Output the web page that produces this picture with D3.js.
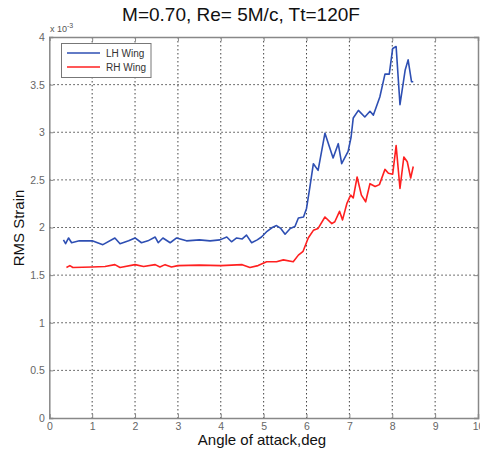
<!DOCTYPE html>
<html><head><meta charset="utf-8">
<script src="https://cdn.jsdelivr.net/npm/d3@7"></script>
<style>body{margin:0;background:#fff;} svg{display:block;font-family:"Liberation Sans",Arial,sans-serif;}</style>
</head><body>
<svg id="c" width="480" height="454"></svg>
<script>
const titleText = "M=0.70, Re= 5M/c, Tt=120F";
const xLabel = "Angle of attack,deg";
const yLabel = "RMS Strain";
const seriesNames = ["LH Wing", "RH Wing"];
const xTicks = [0,1,2,3,4,5,6,7,8,9,10];
const yTicks = [0,0.5,1,1.5,2,2.5,3,3.5,4];

const lhAngle = [0.33,0.38,0.45,0.52,0.7,1.0,1.25,1.53,1.65,1.85,2.0,2.15,2.3,2.47,2.54,2.65,2.82,2.97,3.2,3.5,3.75,3.98,4.14,4.25,4.37,4.5,4.6,4.72,4.85,4.95,5.08,5.2,5.3,5.4,5.5,5.62,5.73,5.81,5.93,6.0,6.08,6.16,6.27,6.43,6.62,6.74,6.82,6.97,7.04,7.09,7.21,7.36,7.48,7.56,7.71,7.83,7.93,8.01,8.09,8.18,8.3,8.37,8.45,8.49];
const lhStrain = [1.87,1.83,1.89,1.84,1.86,1.86,1.82,1.89,1.83,1.86,1.89,1.84,1.86,1.9,1.84,1.89,1.84,1.89,1.86,1.87,1.86,1.87,1.9,1.85,1.89,1.88,1.92,1.84,1.87,1.9,1.96,2.0,2.02,1.99,1.93,1.99,2.01,2.1,2.11,2.2,2.43,2.67,2.6,2.99,2.73,2.88,2.67,2.8,2.95,3.15,3.23,3.16,3.22,3.18,3.37,3.61,3.61,3.88,3.9,3.29,3.65,3.76,3.53,3.53];

const rhAngle = [0.4,0.48,0.55,1.0,1.3,1.53,1.65,2.0,2.2,2.47,2.58,2.7,2.85,3.0,3.5,4.0,4.5,4.68,4.87,5.07,5.3,5.46,5.69,5.81,5.92,6.04,6.16,6.27,6.43,6.59,6.66,6.77,6.84,6.94,7.03,7.09,7.18,7.28,7.38,7.48,7.6,7.7,7.83,7.91,8.01,8.09,8.18,8.27,8.35,8.43,8.49];
const rhStrain = [1.58,1.6,1.58,1.585,1.59,1.61,1.58,1.61,1.59,1.61,1.585,1.61,1.585,1.6,1.605,1.6,1.61,1.58,1.6,1.64,1.64,1.66,1.64,1.71,1.75,1.89,1.97,1.99,2.11,2.04,2.06,2.17,2.08,2.25,2.34,2.31,2.53,2.34,2.27,2.46,2.43,2.45,2.61,2.57,2.56,2.86,2.41,2.74,2.69,2.52,2.64];

const colors = ["#2e4fb3", "#ff2020"];

const svg = d3.select("#c");
const L = 49.3, R = 478, T = 37, B = 418;
const x = d3.scaleLinear().domain([0,10]).range([L,R]);
const y = d3.scaleLinear().domain([0,4]).range([B,T]);

// grid
const g = svg.append("g");
g.selectAll(".gx").data(xTicks.slice(1,-1)).enter().append("line")
  .attr("x1", d=>x(d)).attr("x2", d=>x(d)).attr("y1", T).attr("y2", B)
  .attr("stroke", "#444").attr("stroke-width", 1).attr("stroke-dasharray", "1.5,2.5");
g.selectAll(".gy").data(yTicks.slice(1,-1)).enter().append("line")
  .attr("y1", d=>y(d)).attr("y2", d=>y(d)).attr("x1", L).attr("x2", R)
  .attr("stroke", "#444").attr("stroke-width", 1).attr("stroke-dasharray", "1.5,2.5");

// axes
const axColor = "#888";
const xb = svg.append("g").attr("transform", `translate(0,${B})`)
  .call(d3.axisBottom(x).tickValues(xTicks).tickSize(-4).tickPadding(5).tickFormat(d3.format("d")));
const xt = svg.append("g").attr("transform", `translate(0,${T})`)
  .call(d3.axisTop(x).tickValues(xTicks).tickSize(-4).tickFormat(""));
const yl = svg.append("g").attr("transform", `translate(${L},0)`)
  .call(d3.axisLeft(y).tickValues(yTicks).tickSize(-4).tickPadding(4.5).tickFormat(d=>String(d)));
const yr = svg.append("g").attr("transform", `translate(${R},0)`)
  .call(d3.axisRight(y).tickValues(yTicks).tickSize(-4).tickFormat(""));
[xb,xt,yl,yr].forEach(a=>{
  a.select(".domain").attr("stroke", axColor).attr("stroke-width", 1.5);
  a.selectAll(".tick line").attr("stroke", axColor);
  a.selectAll("text").attr("fill", "#666").attr("font-size", 10.5).attr("font-family", "Liberation Sans, Arial, sans-serif");
});

// lines
const line = d3.line().x(d=>x(d[0])).y(d=>y(d[1]));
const data = [d3.zip(lhAngle, lhStrain), d3.zip(rhAngle, rhStrain)];
svg.selectAll(".series").data(data).enter().append("path")
  .attr("d", line).attr("fill", "none")
  .attr("stroke", (d,i)=>colors[i]).attr("stroke-width", 1.6).attr("stroke-linejoin", "round");

// title and labels
svg.append("text").attr("x", 241).attr("y", 21).attr("text-anchor", "middle")
  .attr("font-size", 19).attr("fill", "#111").text(titleText);
svg.append("text").attr("x", 262).attr("y", 445).attr("text-anchor", "middle")
  .attr("font-size", 15).attr("fill", "#111").text(xLabel);
svg.append("text").attr("transform", `translate(24,228) rotate(-90)`).attr("text-anchor", "middle")
  .attr("font-size", 15).attr("fill", "#111").text(yLabel);
const ex = svg.append("text").attr("x", 50).attr("y", 32).attr("font-size", 9).attr("fill", "#555");
ex.append("tspan").text("x 10");
ex.append("tspan").attr("dy", -4).attr("font-size", 7).text("-3");

// legend
const lg = svg.append("g");
lg.append("rect").attr("x", 61.5).attr("y", 43.5).attr("width", 89.5).attr("height", 34)
  .attr("fill", "#fff").attr("stroke", "#777").attr("stroke-width", 1);
seriesNames.forEach((n,i)=>{
  const yy = 53 + i*14;
  lg.append("line").attr("x1", 67).attr("x2", 100).attr("y1", yy).attr("y2", yy)
    .attr("stroke", colors[i]).attr("stroke-width", 1.6);
  lg.append("text").attr("x", 106).attr("y", yy+3.5).attr("font-size", 10).attr("fill", "#333").text(n);
});
</script>
</body></html>
